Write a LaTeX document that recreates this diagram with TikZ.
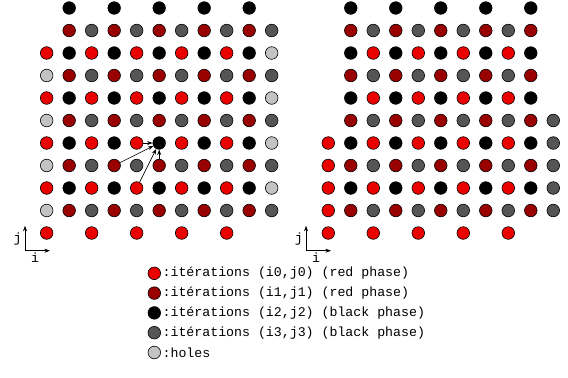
\documentclass[tikz,border=0pt]{standalone}
\usepackage{fontspec}
\setmonofont{Liberation Mono}
\usetikzlibrary{positioning,arrows.meta}
\definecolor{phasered}{RGB}{235,0,0}
\definecolor{phasedark}{RGB}{153,0,0}
\definecolor{phasegray}{RGB}{85,85,85}
\definecolor{holegray}{RGB}{195,195,195}
\begin{document}
\begin{tikzpicture}[x=22.5bp, y=22.5bp, >={Stealth[length=5.5pt,width=4pt]},
        dot/.style={circle, draw, line width=0.6pt, minimum size=12.6bp, inner sep=0pt},
        phase0/.style={dot, fill=phasered},
        phase1/.style={dot, fill=black},
        phase2/.style={dot, fill=phasegray},
        phase3/.style={dot, fill=phasedark},
        hole/.style={dot, fill=holegray},
        txt/.style={font=\ttfamily\fontsize{13.3}{16}\selectfont, inner sep=0pt}]
                \useasboundingbox (0,0) rectangle (25.244,16.756);

                % left domain
                \foreach \j/\cols in {10/{1,3,5,7,9}, 9/{1,...,10}, 8/{0,...,9}, 7/{1,...,10}, 6/{0,...,9}, 5/{1,...,10}, 4/{0,...,9}, 3/{1,...,10}, 2/{0,...,9}, 1/{1,...,10}, 0/{0,2,4,6,8}}
                    \foreach \i in \cols {
                        \pgfmathtruncatemacro{\k}{mod(\i,2)+2*mod(\j,2)}
                        \node[phase\k] (L-\i-\j) at ({2.075+\i},{6.4+\j}) {};
                    }
                \foreach \j in {1,3,5,7} \node[hole] (L-0-\j) at (2.075,{6.4+\j}) {};
                \foreach \j in {2,4,6,8} \node[hole] (L-10-\j) at (12.075,{6.4+\j}) {};

                % right domain
                \foreach \j/\cols in {10/{1,3,5,7,9}, 9/{1,...,9}, 8/{1,...,9}, 7/{1,...,9}, 6/{1,...,9}, 5/{1,...,10}, 4/{0,...,9}, 3/{1,...,10}, 2/{0,...,9}, 1/{1,...,10}, 0/{0,2,4,6,8}}
                    \foreach \i in \cols {
                        \pgfmathtruncatemacro{\k}{mod(\i,2)+2*mod(\j,2)}
                        \node[phase\k] (R-\i-\j) at ({14.59+\i},{6.4+\j}) {};
                    }
                \foreach \j in {1,3} \node[phase0] (R-0-\j) at (14.59,{6.4+\j}) {};
                \foreach \j in {2,4} \node[phase2] (R-10-\j) at (24.59,{6.4+\j}) {};

                % dependencies
                \draw[line width=0.6pt, ->] (L-4-4) -- (L-5-4);
                \draw[line width=0.6pt, ->] (L-3-3) -- (L-5-4);
                \draw[line width=0.6pt, ->] (L-4-2) -- (L-5-4);
                \draw[line width=0.6pt, ->] (L-5-3) -- (L-5-4);

                % axes
                \coordinate (Lo) at (1.111,5.613);
                \coordinate (Lj) at (1.111,6.72);
                \coordinate (Li) at (2.22,5.613);
                \draw[line width=0.6pt, ->] (Lo) -- (Lj) node[txt, pos=0.45, left=3bp] {j};
                \draw[line width=0.6pt, ->] (Lo) -- (Li) node[txt, pos=0.4, below=2bp] {i};
                \coordinate (Ro) at (13.6,5.613);
                \coordinate (Rj) at (13.6,6.72);
                \coordinate (Ri) at (14.71,5.613);
                \draw[line width=0.6pt, ->] (Ro) -- (Rj) node[txt, pos=0.45, left=3bp] {j};
                \draw[line width=0.6pt, ->] (Ro) -- (Ri) node[txt, pos=0.4, below=2bp] {i};

                % legend
                \node[phase0] (key0) at (6.858,4.609) {};
                \node[phase3, below=6.6bp of key0] (key1) {};
                \node[phase1, below=6.6bp of key1] (key2) {};
                \node[phase2, below=6.6bp of key2] (key3) {};
                \node[hole, below=6.6bp of key3] (key4) {};
                \node[txt, right=1.5bp of key0] (lbl0) {:itérations (i0,j0) (red phase)};
                \node[txt, right=1.5bp of key1] (lbl1) {:itérations (i1,j1) (red phase)};
                \node[txt, right=1.5bp of key2] (lbl2) {:itérations (i2,j2) (black phase)};
                \node[txt, right=1.5bp of key3] (lbl3) {:itérations (i3,j3) (black phase)};
                \node[txt, right=1.5bp of key4] (lbl4) {:holes};
            \end{tikzpicture}
\end{document}
